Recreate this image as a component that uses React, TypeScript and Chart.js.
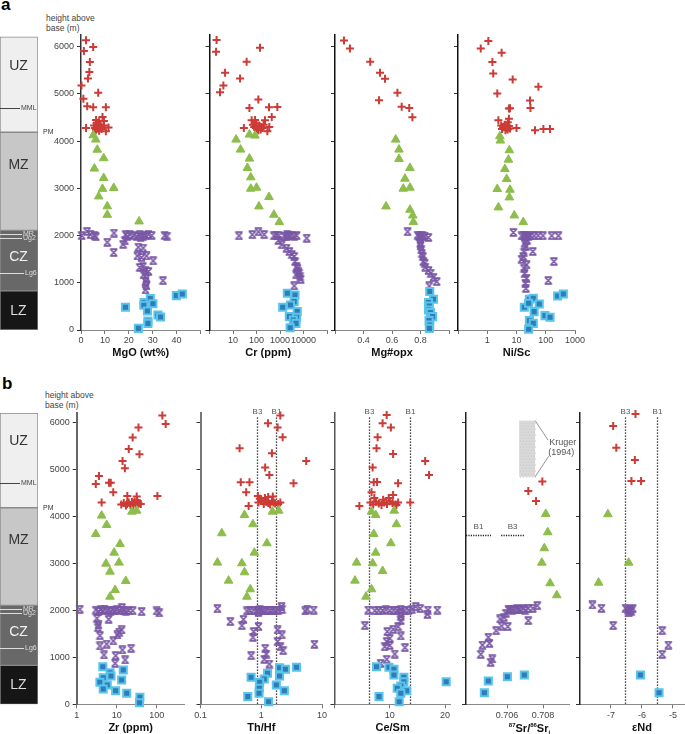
import React, { useEffect, useRef } from 'react';
import { Chart, registerables } from 'chart.js';
Chart.register(...registerables);

const FONT = '"Liberation Sans", Arial, Helvetica, sans-serif';
type Pair = [number, number];

// ---------- height axis ----------
const heightTicks = [0, 1000, 2000, 3000, 4000, 5000, 6000];
const heightLabels = ['0', '1000', '2000', '3000', '4000', '5000', '6000'];

// ---------- stratigraphic column ----------
const zoneNames = ['LZ', 'CZ', 'MZ', 'UZ'];
const zoneBounds: Pair[] = [[0, 830], [830, 2110], [2110, 4190], [4190, 6210]];
const zoneLabelHeights = [410, 1540, 3500, 5600];
const markerNames = ['MML', 'MR', 'Ug2', 'Lg6'];
const markerHeights = [4710, 2040, 1950, 1200];
const pmHeight = 4190;

// ---------- a: MgO (wt%) ----------
const mgoTicks = [0, 10, 20, 30, 40, 50];
const mgoLabels = ['0', '10', '20', '30', '40', ''];
const mgoUZ: Pair[] = [[2.1,6140],[1.2,5910],[5.1,5995],[3.7,5680],[3.5,5465],[2.9,5330],[0.2,5180],[1,4900],[7.2,5025],[2.6,4740],[5.1,4720],[10.4,4720],[9,4515],[6.3,4450],[7.6,4415],[9.6,4430],[5.5,4330],[7.2,4300],[8.6,4260],[6.3,4240],[9.6,4330],[7.6,4220],[6.5,4380],[8,4350],[5.8,4280],[7,4270],[2.1,4280],[11.5,4290],[10.4,4210],[8.5,4300],[6.8,4320]];
const mgoMZ: Pair[] = [[5.1,4125],[6.2,4035],[6.8,3820],[9.5,3640],[5.6,3420],[9.5,3220],[9,2990],[13.7,3010],[7.4,2830],[11,2620],[11,2440],[24.3,2300]];
const mgoCZ: Pair[] = [[0.3,2000],[2.5,2090],[4,2020],[5.6,2000],[6.2,1975],[13.8,2055],[11,1860],[18.7,2020],[19.4,1980],[18.4,1890],[17.6,1815],[20.5,2020],[22,2000],[24.6,2020],[26,1990],[28.2,2025],[29.6,2000],[23.3,1980],[25,1960],[27,2005],[35,2000],[36,1990],[13.7,1640],[24,1755],[26,1735],[23.6,1570],[25.3,1535],[27.4,1570],[30.2,1465],[25.9,1345],[24.6,1325],[27,1260],[28.2,1240],[26.2,1170],[27.4,1100],[27,1030],[27.4,935],[27,850],[34.3,1045]];
const mgoLZ: Pair[] = [[18.6,482],[26.4,580],[29,665],[30.1,558],[26.3,524],[27.8,403],[32.2,318],[33.3,276],[28,191],[28,141],[24,35],[39.9,728],[42.4,764]];

// ---------- a: Cr (ppm) ----------
const crTicks = [1, 10, 100, 1000, 10000, 100000];
const crLabels = ['', '10', '100', '1000', '10000', ''];
const crUZ: Pair[] = [[2,6142],[1.9,5896],[141,5980],[38,5683],[4.6,5450],[20,5329],[3.9,5180],[2.8,5039],[120,4883],[50,4706],[340,4720],[770,4727],[445,4515],[62,4445],[87,4450],[230,4445],[29,4282],[290,4210],[350,4300],[100,4380],[130,4330],[160,4300],[110,4260],[80,4300],[200,4350],[150,4250],[120,4230],[70,4350],[180,4280],[95,4280]];
const crMZ: Pair[] = [[50,4140],[86,4119],[13.5,4034],[21,3822],[50,3631],[41,3433],[57,3234],[57,2994],[100,3015],[340,2817],[127,2618],[550,2442],[935,2286]];
const crCZ: Pair[] = [[18,1996],[66,2020],[120,2080],[210,2020],[550,1996],[700,2010],[900,2000],[1500,1990],[2000,2020],[2500,1995],[3000,2010],[4000,1990],[5100,2000],[13700,1946],[1900,1975],[850,1897],[1180,1805],[1900,1734],[2500,1662],[3200,1600],[4000,1557],[4350,1450],[5100,1344],[5500,1300],[6000,1238],[6500,1200],[4800,1168],[7100,1132],[7600,1076],[4000,934]];
const crLZ: Pair[] = [[2050,779],[4350,743],[4000,601],[2800,531],[1300,482],[5400,389],[2500,283],[5100,269],[3700,212],[4800,141],[2700,49]];

// ---------- a: Mg#opx ----------
const mgnTicks = [0.2, 0.4, 0.6, 0.8, 1.0];
const mgnLabels = ['', '0.4', '0.6', '0.8', ''];
const mgnUZ: Pair[] = [[0.263,6136],[0.305,5966],[0.447,5683],[0.516,5450],[0.551,5322],[0.638,5025],[0.509,4869],[0.668,4728],[0.721,4706],[0.743,4508]];
const mgnMZ: Pair[] = [[0.626,4034],[0.649,3822],[0.649,3624],[0.726,3433],[0.691,3206],[0.679,2994],[0.726,3015],[0.558,2618],[0.726,2548],[0.746,2427],[0.75,2286]];
const mgnCZ: Pair[] = [[0.71,2081],[0.798,1996],[0.78,2010],[0.815,2000],[0.83,1990],[0.855,1960],[0.79,1980],[0.8,1930],[0.8,1780],[0.798,1840],[0.805,1699],[0.81,1620],[0.817,1557],[0.82,1450],[0.83,1416],[0.833,1331],[0.856,1260],[0.872,1203],[0.891,1118],[0.914,1026],[0.861,934]];
const mgnLZ: Pair[] = [[0.865,814],[0.891,652],[0.856,580],[0.862,510],[0.856,425],[0.87,368],[0.885,283],[0.86,198],[0.865,106],[0.862,35]];

// ---------- a: Ni/Sc ----------
const niscTicks = [0.1, 1, 10, 100, 1000];
const niscLabels = ['', '1', '10', '100', '1000'];
const niscUZ: Pair[] = [[1.09,6122],[0.6,5966],[3.1,5874],[1.5,5676],[1.6,5435],[7.4,5308],[56,5153],[2.2,5011],[29,4862],[30,4706],[5.5,4692],[6,4700],[5.5,4473],[2.4,4445],[3,4330],[3.5,4300],[4,4350],[4.5,4280],[5,4250],[5.5,4320],[6,4270],[4.2,4230],[3.2,4260],[5,4400],[10,4282],[43,4232],[83,4261],[140,4261],[4.8,4300]];
const niscMZ: Pair[] = [[2.7,4105],[2.8,4013],[5.7,3808],[5.3,3609],[4,3412],[4.6,3199],[2.2,2987],[6,2972],[5.7,2809],[2.4,2597],[8.4,2427],[17,2286]];
const niscCZ: Pair[] = [[7.8,2066],[15,1996],[18,2010],[20,1990],[22,2000],[25,1980],[30,2000],[40,1995],[55,2000],[80,1996],[160,1996],[270,1996],[20,1960],[23,1900],[19,1840],[21,1770],[18,1650],[36,1662],[17,1557],[15,1500],[190,1450],[22,1380],[18,1310],[19,1200],[22,1096],[122,1047],[20,990],[21,883]];
const niscLZ: Pair[] = [[27.7,651],[37.5,672],[18.5,482],[26,566],[60,552],[40,389],[94,304],[140,269],[27.7,198],[37.5,141],[26,14],[255,722],[400,764]];

// ---------- b: Zr (ppm) ----------
const zrTicks = [1, 10, 100];
const zrLabels = ['1', '10', '100'];
const zrUZ: Pair[] = [[138,6154],[167,5977],[35,5898],[25,5685],[20,5444],[37,5330],[14,5188],[16,5032],[3.6,4868],[3,4697],[6.4,4720],[7.1,4725],[8.2,4520],[4.2,4299],[18.4,4441],[31.6,4427],[104,4440],[15,4290],[18,4270],[20,4300],[22,4250],[25,4280],[28,4320],[30,4260],[33,4300],[36,4280],[40,4270],[26,4240],[17,4240],[13,4260],[32,4350],[24,4310]];
const zrMZ: Pair[] = [[24,4107],[31.6,4128],[4.2,4022],[5.6,3823],[3,3631],[12.1,3418],[8.6,3233],[5.4,2998],[11.4,3020],[6.8,2828],[16.8,2629],[9.1,2437],[6.8,2294]];
const zrCZ: Pair[] = [[1.2,2025],[3,2010],[3.5,1980],[4,2020],[4.5,1990],[5,2030],[6,2000],[7,1985],[8,2010],[9,1995],[10,2020],[12,2000],[13.5,2060],[15,2010],[17,1985],[20,2000],[25,1995],[42,1975],[100,1990],[115,1950],[3.2,1833],[6.3,1812],[3.5,1691],[3.4,1634],[13.3,1584],[11.5,1540],[10.4,1478],[3.8,1463],[8.2,1350],[5.6,1285],[3.8,1243],[22.8,1194],[13.8,1158],[4.8,1051],[9.4,1036],[16.2,945],[9.1,874]];
const zrLZ: Pair[] = [[4.5,802],[14.6,731],[6.8,674],[7.2,603],[4.6,567],[13.3,518],[3.8,469],[5.8,412],[4.6,326],[9.4,290],[17.8,235],[38,149],[37,34]];

// ---------- b: Th/Hf ----------
const thhfTicks = [0.1, 1, 10];
const thhfLabels = ['0.1', '1', '10'];
const thhfRefs = [0.85, 1.77];
const thhfUZ: Pair[] = [[2.06,6154],[1.29,5991],[1.86,5898],[2.25,5693],[0.44,5458],[1.5,5352],[5.5,5188],[1.16,5045],[1.36,4889],[0.46,4733],[0.64,4733],[3.4,4712],[0.565,4520],[0.88,4441],[0.62,4228],[0.9,4300],[1.0,4350],[1.1,4270],[1.2,4320],[1.3,4290],[1.4,4260],[1.5,4340],[1.6,4300],[1.7,4280],[1.9,4270],[2.06,4300],[1.15,4400],[1.3,4420],[1.55,4430],[0.95,4380]];
const thhfMZ: Pair[] = [[0.53,4036],[1.53,4107],[1.94,4128],[0.73,3838],[0.224,3646],[1.24,3433],[0.77,3233],[0.19,3020],[0.48,3006],[0.53,2814],[0.29,2636],[0.66,2452],[0.58,2294]];
const thhfCZ: Pair[] = [[0.19,2038],[0.58,1990],[0.65,2000],[0.75,2010],[0.85,1995],[0.95,2020],[1.05,2000],[1.15,1990],[1.25,2010],[1.4,2000],[1.55,2005],[1.7,1995],[1.9,2010],[2.15,2080],[2.2,2020],[0.9,1960],[5.7,2030],[5.3,1990],[7.3,2010],[0.31,1762],[0.51,1812],[0.48,1677],[0.9,1655],[1.86,1584],[0.75,1549],[2.19,1478],[0.73,1429],[1.86,1335],[7.5,1279],[2.06,1228],[1.16,1194],[2.29,1143],[1.21,1072],[0.68,1036],[1.12,959],[1.36,859]];
const thhfLZ: Pair[] = [[2,780],[2.5,746],[3.8,789],[1.27,661],[0.68,576],[2,603],[1.12,539],[0.94,469],[1.77,412],[0.93,341],[2.4,290],[0.92,235],[0.6,163],[1.32,56]];

// ---------- b: Ce/Sm ----------
const cesmTicks = [0, 10, 20];
const cesmLabels = ['', '10', '20'];
const cesmRefs = [6.3, 13.65];
const cesmUZ: Pair[] = [[9.44,6169],[8.7,5991],[10.2,5898],[7.8,5693],[7.6,5458],[10.6,5337],[16.4,5188],[6.9,5045],[17.1,4889],[7.1,4733],[7.7,4740],[11.5,4712],[6.7,4520],[10.6,4462],[4.5,4228],[13.7,4299],[6.5,4300],[7,4260],[7.5,4320],[8,4280],[8.5,4250],[9,4300],[9.5,4270],[10,4330],[10.5,4290],[11,4260],[11.5,4300],[8.8,4360],[9.8,4400],[7.2,4400],[11.2,4250]];
const cesmMZ: Pair[] = [[6.7,4107],[7.45,4036],[10.8,4128],[11.2,3838],[7.1,3631],[10.2,3433],[7.45,3233],[4,3020],[6.9,3006],[8.7,2842],[3.7,2636],[6.7,2452],[5.7,2294]];
const cesmCZ: Pair[] = [[6.1,2010],[7.3,1995],[8,2005],[8.7,2000],[9.3,2015],[10,1995],[10.7,2010],[11.3,2000],[12,2020],[12.7,1990],[13.4,2005],[14,2030],[14.7,2081],[15.5,2040],[16.9,2010],[16.8,1919],[18.6,2010],[12,1950],[12,1870],[12,1783],[5.5,1677],[11.5,1655],[10.6,1599],[9.55,1549],[12,1457],[10,1407],[9.44,1335],[10,1257],[9.1,1228],[12.75,1208],[10.9,1072],[9.44,959],[8.35,874]];
const cesmLZ: Pair[] = [[7.6,802],[9.85,789],[10.75,746],[10.75,625],[12.55,576],[12.55,482],[20.2,482],[12,390],[11.35,341],[13.05,290],[12,235],[8.05,163],[11.7,56]];

// ---------- b: 87Sr/86Sr(i) ----------
const srTicks = [0.706, 0.708];
const srLabels = ['0.706', '0.708'];
const srRefHeight = 3610;
const srRefB1: Pair = [0.70372, 0.70511];
const srRefB3: Pair = [0.70567, 0.70694];
const krugerX: Pair = [0.70667, 0.70756];
const krugerH: Pair = [4850, 6047];
const srUZ: Pair[] = [[0.70796,4747],[0.70718,4548],[0.70761,4335]];
const srMZ: Pair[] = [[0.70815,4058],[0.70826,3667],[0.70807,3326],[0.70793,3019],[0.70839,2580],[0.70876,2324]];
const srCZ: Pair[] = [[0.70768,2102],[0.70743,2047],[0.70718,2047],[0.707,2005],[0.70691,2040],[0.70672,2011],[0.70664,2020],[0.70655,2040],[0.70639,2011],[0.70628,2000],[0.70617,2011],[0.70608,2020],[0.70594,1940],[0.70583,1855],[0.70561,1819],[0.70718,1783],[0.7057,1669],[0.70604,1655],[0.70539,1569],[0.70496,1429],[0.70502,1301],[0.70463,1264],[0.70454,1066],[0.70518,966],[0.70509,896]];
const srLZ: Pair[] = [[0.70696,625],[0.70602,589],[0.70496,497],[0.70474,248]];

// ---------- b: eNd ----------
const ndTicks = [-7, -6, -5];
const ndLabels = ['-7', '-6', '-5'];
const ndRefs = [-6.55, -5.53];
const ndUZ: Pair[] = [[-6.21,6190],[-6.93,5934],[-6.83,5471],[-6.23,5209],[-6.34,4761],[-6.03,4761]];
const ndMZ: Pair[] = [[-7.1,4051],[-6.43,3019],[-7.4,2593]];
const ndCZ: Pair[] = [[-7.6,2117],[-7.31,2047],[-6.53,2047],[-6.45,2000],[-6.38,2030],[-6.3,2040],[-6.42,1950],[-6.35,1985],[-6.93,1677],[-5.35,1569],[-5.15,1264],[-5.35,1066]];
const ndLZ: Pair[] = [[-6.05,625],[-5.45,248]];

// ---------- styling ----------
const RED = '#cc3b36';
const GREEN = '#8dbd4b';
const PURPLE = '#7957a5';
const BLUE = '#2e7db9';
const BLUE_EDGE = '#5ac4ea';

const TOP = { top: 35, bottom: 330, yMax: 6250, tickPad: 1 };
const BOT = { top: 412.5, bottom: 704.3, yMax: 6220, tickPad: 2 };

let hourglassImg: HTMLCanvasElement | null = null;
function hourglass() {
  if (hourglassImg) return hourglassImg;
  const c = document.createElement('canvas');
  c.width = 9; c.height = 9;
  const g = c.getContext('2d')!;
  g.strokeStyle = PURPLE; g.lineWidth = 1.7;
  g.beginPath();
  g.moveTo(1.5, 1.5); g.lineTo(7.5, 7.5);
  g.moveTo(7.5, 1.5); g.lineTo(1.5, 7.5);
  g.moveTo(0.8, 1.2); g.lineTo(8.2, 1.2);
  g.moveTo(0.8, 7.8); g.lineTo(8.2, 7.8);
  g.stroke();
  hourglassImg = c;
  return c;
}

function buildDatasets(series: Pair[][]) {
  const [lz, cz, mz, uz] = series;
  const pts = (a: Pair[]) => a.map(([x, y]) => ({ x, y }));
  return [
    { label: 'LZ', data: pts(lz), pointStyle: 'rect', pointRadius: 5, backgroundColor: BLUE, borderColor: BLUE_EDGE, borderWidth: 2, clip: false },
    { label: 'CZ', data: pts(cz), pointStyle: hourglass(), pointRadius: 4.5, backgroundColor: PURPLE, borderColor: PURPLE, clip: false },
    { label: 'MZ', data: pts(mz), pointStyle: 'triangle', pointRadius: 5, backgroundColor: GREEN, borderColor: GREEN, borderWidth: 1, clip: false },
    { label: 'UZ', data: pts(uz), pointStyle: 'cross', pointRadius: 4, backgroundColor: RED, borderColor: RED, borderWidth: 2, clip: false },
  ];
}

function drawVRefs(chart: any, values: number[], labels: string[]) {
  const { ctx, chartArea: ca, scales } = chart;
  ctx.save();
  values.forEach((v, i) => {
    const x = Math.round(scales.x.getPixelForValue(v)) + 0.5;
    ctx.strokeStyle = '#111'; ctx.lineWidth = 1.3; ctx.setLineDash([1.3, 1.7]);
    ctx.beginPath(); ctx.moveTo(x, ca.top + 5); ctx.lineTo(x, ca.bottom); ctx.stroke();
    ctx.setLineDash([]);
    ctx.fillStyle = '#555'; ctx.font = `8px ${FONT}`; ctx.textAlign = 'center'; ctx.textBaseline = 'middle';
    ctx.fillText(labels[i], x, ca.top - 0.5);
  });
  ctx.restore();
}

function drawSrExtras(chart: any) {
  const { ctx, scales } = chart;
  const xs = scales.x, ys = scales.y;
  ctx.save();
  const yRef = Math.round(ys.getPixelForValue(srRefHeight)) + 0.5;
  [[srRefB1, 'B1'], [srRefB3, 'B3']].forEach(([rng, lab]: any) => {
    const x1 = xs.getPixelForValue(rng[0]), x2 = xs.getPixelForValue(rng[1]);
    ctx.strokeStyle = '#222'; ctx.lineWidth = 1.3; ctx.setLineDash([1.2, 1.2]);
    ctx.beginPath(); ctx.moveTo(x1, yRef); ctx.lineTo(x2, yRef); ctx.stroke();
    ctx.setLineDash([]);
    ctx.fillStyle = '#555'; ctx.font = `8px ${FONT}`; ctx.textAlign = 'center'; ctx.textBaseline = 'middle';
    ctx.fillText(lab, (x1 + x2) / 2, yRef - 8.5);
  });
  const bx1 = xs.getPixelForValue(krugerX[0]), bx2 = xs.getPixelForValue(krugerX[1]);
  const by1 = ys.getPixelForValue(krugerH[1]), by2 = ys.getPixelForValue(krugerH[0]);
  ctx.fillStyle = '#d9d9d9';
  ctx.fillRect(bx1, by1, bx2 - bx1, by2 - by1);
  ctx.fillStyle = '#c4c4c4';
  for (let yy = by1 + 2; yy < by2; yy += 3) {
    for (let xx = bx1 + ((yy - by1) % 6 < 3 ? 1 : 2.5); xx < bx2; xx += 3) ctx.fillRect(xx, yy, 1, 1);
  }
  ctx.strokeStyle = '#777'; ctx.lineWidth = 0.8;
  ctx.beginPath();
  ctx.moveTo(bx2, by1); ctx.lineTo(bx2 + 13, by1 + 19.5);
  ctx.moveTo(bx2, by2); ctx.lineTo(bx2 + 13.5, by2 - 20.5);
  ctx.stroke();
  ctx.fillStyle = '#555'; ctx.font = `9px ${FONT}`; ctx.textAlign = 'left'; ctx.textBaseline = 'middle';
  ctx.fillText('Kruger', bx2 + 14, by1 + 21.5);
  ctx.fillText('(1994)', bx2 + 13, by1 + 31.5);
  ctx.restore();
}

function drawSrTitle(chart: any) {
  const { ctx, chartArea: ca } = chart;
  const parts: [string, string][] = [['87', 'sup'], ['Sr/', 'n'], ['86', 'sup'], ['Sr', 'n'], ['i', 'sub']];
  const fN = `bold 11px ${FONT}`, fS = `bold 6px ${FONT}`;
  ctx.save();
  let total = 0;
  parts.forEach(([t, k]) => { ctx.font = k === 'n' ? fN : fS; total += ctx.measureText(t).width; });
  let x = (ca.left + ca.right) / 2 + 12 - total / 2;
  const base = ca.bottom + 28;
  ctx.fillStyle = '#111'; ctx.textAlign = 'left'; ctx.textBaseline = 'alphabetic';
  parts.forEach(([t, k]) => {
    ctx.font = k === 'n' ? fN : fS;
    const y = k === 'sup' ? base - 5 : k === 'sub' ? base + 2 : base;
    ctx.fillText(t, x, y);
    x += ctx.measureText(t).width;
  });
  ctx.restore();
}

function drawNdTitle(chart: any) {
  const { ctx, chartArea: ca } = chart;
  ctx.save();
  ctx.fillStyle = '#111'; ctx.font = `bold 11px ${FONT}`; ctx.textAlign = 'center'; ctx.textBaseline = 'middle';
  ctx.fillText('\u03b5Nd', ca.left + 62, ca.bottom + 24);
  ctx.restore();
}

type PanelSpec = {
  top: number; bottom: number; yMax: number; tickPad: number;
  left: number; right: number;
  xType: string; xMin: number; xMax: number; xTicks: number[]; xLabels: string[];
  title: string; yLabels: boolean; yColor: string; yWidth: number;
  series: Pair[][];
  extraBefore?: (c: any) => void;
  extraAfter?: (c: any) => void;
};

const panels: PanelSpec[] = [
  { ...TOP, left: 81, right: 200.5, xType: 'linear', xMin: 0, xMax: 50, xTicks: mgoTicks, xLabels: mgoLabels, title: 'MgO (wt%)', yLabels: true, yColor: '#333', yWidth: 1.5, series: [mgoLZ, mgoCZ, mgoMZ, mgoUZ] },
  { ...TOP, left: 209.5, right: 327, xType: 'logarithmic', xMin: 1, xMax: 100000, xTicks: crTicks, xLabels: crLabels, title: 'Cr (ppm)', yLabels: false, yColor: '#111', yWidth: 1.5, series: [crLZ, crCZ, crMZ, crUZ] },
  { ...TOP, left: 335, right: 449, xType: 'linear', xMin: 0.2, xMax: 1.0, xTicks: mgnTicks, xLabels: mgnLabels, title: 'Mg#opx', yLabels: false, yColor: '#111', yWidth: 1.5, series: [mgnLZ, mgnCZ, mgnMZ, mgnUZ] },
  { ...TOP, left: 458, right: 575, xType: 'logarithmic', xMin: 0.1, xMax: 1000, xTicks: niscTicks, xLabels: niscLabels, title: 'Ni/Sc', yLabels: false, yColor: '#111', yWidth: 1.5, series: [niscLZ, niscCZ, niscMZ, niscUZ] },
  { ...BOT, left: 76.7, right: 184.7, xType: 'logarithmic', xMin: 1, xMax: 500, xTicks: zrTicks, xLabels: zrLabels, title: 'Zr (ppm)', yLabels: true, yColor: '#666', yWidth: 2, series: [zrLZ, zrCZ, zrMZ, zrUZ] },
  { ...BOT, left: 200.5, right: 322, xType: 'logarithmic', xMin: 0.1, xMax: 10, xTicks: thhfTicks, xLabels: thhfLabels, title: 'Th/Hf', yLabels: false, yColor: '#777', yWidth: 2, series: [thhfLZ, thhfCZ, thhfMZ, thhfUZ], extraBefore: (c) => drawVRefs(c, thhfRefs, ['B3', 'B1']) },
  { ...BOT, left: 334.5, right: 450.6, xType: 'linear', xMin: 0, xMax: 21, xTicks: cesmTicks, xLabels: cesmLabels, title: 'Ce/Sm', yLabels: false, yColor: '#555', yWidth: 1.5, series: [cesmLZ, cesmCZ, cesmMZ, cesmUZ], extraBefore: (c) => drawVRefs(c, cesmRefs, ['B3', 'B1']) },
  { ...BOT, left: 466, right: 569, xType: 'linear', xMin: 0.70372, xMax: 0.70944, xTicks: srTicks, xLabels: srLabels, title: '', yLabels: false, yColor: '#222', yWidth: 1.5, series: [srLZ, srCZ, srMZ, srUZ], extraBefore: drawSrExtras, extraAfter: drawSrTitle },
  { ...BOT, left: 580, right: 685.4, xType: 'linear', xMin: -8, xMax: -4.6, xTicks: ndTicks, xLabels: ndLabels, title: '', yLabels: false, yColor: '#222', yWidth: 1.5, series: [ndLZ, ndCZ, ndMZ, ndUZ], extraBefore: (c) => drawVRefs(c, ndRefs, ['B3', 'B1']), extraAfter: drawNdTitle },
];

const ML = 34, MR = 24, MT = 22, XH = 30;

function ScatterPanel({ spec }: { spec: PanelSpec }) {
  const ref = useRef<HTMLCanvasElement>(null);
  const cl = Math.floor(spec.left - ML);
  const ct = Math.floor(spec.top - MT);
  const cw = Math.ceil(spec.right + MR - cl);
  const ch = Math.ceil(spec.bottom + XH - ct) + 2;
  useEffect(() => {
    const yW = spec.left - cl; // whole left margin belongs to the y axis box
    const pad = {
      left: 0,
      right: cw - (spec.right - cl),
      top: spec.top - ct,
      bottom: ch - XH - (spec.bottom - ct),
    };
    const chart = new Chart(ref.current as HTMLCanvasElement, {
      type: 'scatter',
      data: { datasets: buildDatasets(spec.series) as any },
      options: {
        responsive: false,
        animation: false,
        events: [],
        devicePixelRatio: 1,
        layout: { padding: pad },
        plugins: { legend: { display: false }, tooltip: { enabled: false }, title: { display: false } },
        scales: {
          x: {
            type: spec.xType as any,
            min: spec.xMin,
            max: spec.xMax,
            position: 'bottom',
            afterBuildTicks: (s: any) => { s.ticks = spec.xTicks.map((v) => ({ value: v })); },
            afterFit: (s: any) => { s.height = XH; s.paddingLeft = 0; s.paddingRight = 0; s.paddingTop = 0; s.paddingBottom = 0; },
            ticks: {
              autoSkip: false, maxRotation: 0, minRotation: 0, padding: spec.tickPad,
              color: '#444', font: { family: FONT, size: 9 },
              callback: (_v: any, i: number) => spec.xLabels[i],
            },
            grid: { display: true, drawOnChartArea: false, drawTicks: true, tickLength: 4, color: '#777' },
            border: { display: true, color: '#888', width: 1 },
            title: { display: !!spec.title, text: spec.title, color: '#111', font: { family: FONT, size: 11, weight: 'bold' }, padding: 0 },
          } as any,
          y: {
            type: 'linear',
            min: 0,
            max: spec.yMax,
            afterBuildTicks: (s: any) => { s.ticks = heightTicks.map((v) => ({ value: v })); },
            afterFit: (s: any) => { s.width = yW; s.paddingTop = 0; s.paddingBottom = 0; s.paddingLeft = 0; s.paddingRight = 0; },
            ticks: {
              autoSkip: false, padding: 3, color: '#444', font: { family: FONT, size: 9 },
              callback: (_v: any, i: number) => (spec.yLabels ? heightLabels[i] : ''),
            },
            grid: { display: true, drawOnChartArea: false, drawTicks: true, tickLength: 4, color: '#333' },
            border: { display: true, color: spec.yColor, width: spec.yWidth },
          } as any,
        },
      },
      plugins: [{
        id: 'panelExtras',
        beforeDatasetsDraw: (c: any) => { if (spec.extraBefore) spec.extraBefore(c); },
        afterDatasetsDraw: (c: any) => { if (spec.extraAfter) spec.extraAfter(c); },
      }],
    });
    return () => chart.destroy();
  }, []);
  return <canvas ref={ref} width={cw} height={ch} style={{ position: 'absolute', left: cl, top: ct, width: cw, height: ch }} />;
}

const zoneColors = ['#161616', '#686868', '#c7c7c7', '#efefef'];
const zoneTextColors = ['#dddddd', '#f2f2f2', '#333333', '#333333'];
const markerColors = ['#444444', '#dddddd', '#dddddd', '#dddddd'];
const markerLineLen = [20, 22, 22, 24];

function Column({ top, bottom, yMax }: { top: number; bottom: number; yMax: number }) {
  const ref = useRef<HTMLCanvasElement>(null);
  const colW = 38, PR = 24;
  const ct = Math.floor(top);
  const cw = colW + PR;
  const ch = Math.ceil(bottom - ct) + 1;
  useEffect(() => {
    const chart = new Chart(ref.current as HTMLCanvasElement, {
      type: 'bar',
      data: {
        labels: ['column'],
        datasets: zoneNames.map((n, i) => ({
          label: n,
          data: [zoneBounds[i]] as any,
          backgroundColor: zoneColors[i],
          borderColor: '#8a8a8a',
          borderWidth: 1,
          borderSkipped: false,
          grouped: false,
          barPercentage: 1,
          categoryPercentage: 1,
        })) as any,
      },
      options: {
        responsive: false,
        animation: false,
        events: [],
        devicePixelRatio: 1,
        layout: { padding: { left: 0, right: PR, top: top - ct, bottom: ch - (bottom - ct) } },
        plugins: { legend: { display: false }, tooltip: { enabled: false } },
        scales: {
          x: { type: 'category', display: false },
          y: { type: 'linear', min: 0, max: yMax, display: false },
        },
      },
      plugins: [{
        id: 'columnLabels',
        afterDatasetsDraw: (c: any) => {
          const { ctx, chartArea: ca, scales } = c;
          const y = scales.y;
          ctx.save();
          ctx.textAlign = 'center'; ctx.textBaseline = 'middle';
          ctx.font = `14px ${FONT}`;
          zoneNames.forEach((n, i) => {
            ctx.fillStyle = zoneTextColors[i];
            ctx.fillText(n, (ca.left + ca.right) / 2 - 0.5, y.getPixelForValue(zoneLabelHeights[i]));
          });
          ctx.font = `7px ${FONT}`; ctx.textAlign = 'left';
          markerNames.forEach((n, i) => {
            const py = Math.round(y.getPixelForValue(markerHeights[i])) + 0.5;
            ctx.strokeStyle = markerColors[i]; ctx.lineWidth = 1;
            ctx.beginPath(); ctx.moveTo(ca.left, py); ctx.lineTo(ca.left + markerLineLen[i], py); ctx.stroke();
            ctx.fillStyle = markerColors[i];
            ctx.fillText(n, ca.left + markerLineLen[i] + 1, py);
          });
          ctx.fillStyle = '#333';
          ctx.fillText('PM', ca.right + 5, y.getPixelForValue(pmHeight));
          ctx.restore();
        },
      }],
    });
    return () => chart.destroy();
  }, []);
  return <canvas ref={ref} width={cw} height={ch} style={{ position: 'absolute', left: 0, top: ct, width: cw, height: ch }} />;
}

const sideText: React.CSSProperties = { position: 'absolute', fontSize: 8.5, lineHeight: '10px', color: '#444', whiteSpace: 'nowrap' };

export default function App() {
  return (
    <div style={{ position: 'absolute', left: 0, top: 0, width: 685, height: 734, overflow: 'hidden', background: '#fff', fontFamily: FONT }}>
      <div style={{ position: 'absolute', left: 1, top: -5, fontSize: 17, fontWeight: 'bold', color: '#000' }}>a</div>
      <div style={{ position: 'absolute', left: 2, top: 374, fontSize: 17, fontWeight: 'bold', color: '#000' }}>b</div>
      <div style={{ ...sideText, left: 46, top: 13 }}>height above<br />base (m)</div>
      <div style={{ ...sideText, left: 45, top: 390 }}>height above<br />base (m)</div>
      <Column top={TOP.top} bottom={TOP.bottom} yMax={TOP.yMax} />
      <Column top={BOT.top} bottom={BOT.bottom} yMax={BOT.yMax} />
      {panels.map((p, i) => <ScatterPanel key={i} spec={p} />)}
    </div>
  );
}
